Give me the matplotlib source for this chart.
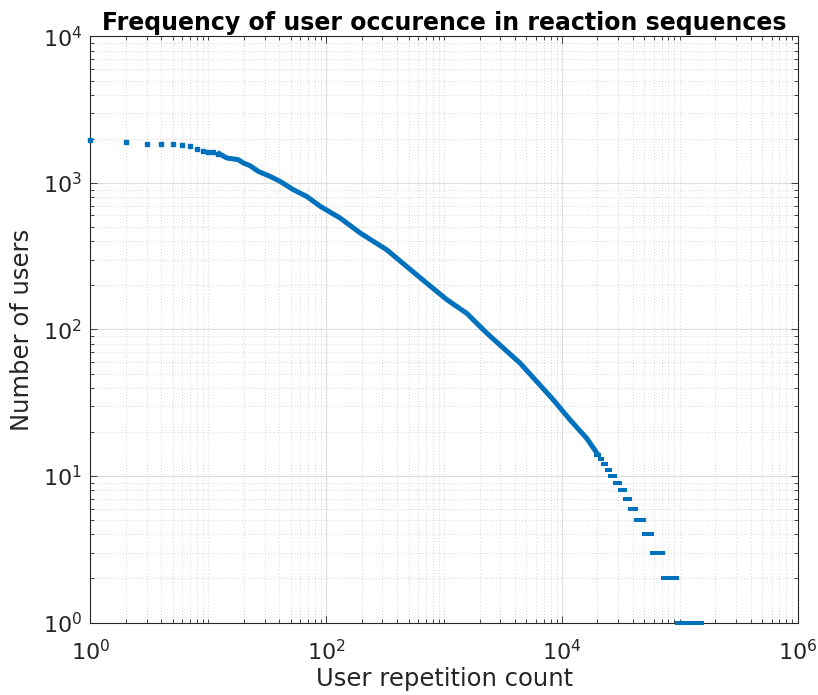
import numpy as np
import matplotlib.pyplot as plt
from matplotlib.ticker import FixedLocator, LogLocator, LogFormatterMathtext, NullFormatter

# Small repetition counts: separate markers
head_x = [1, 2, 3, 4, 5, 6, 7, 8, 9, 10, 11, 12]
head_y = [1954, 1893, 1855, 1850, 1835, 1818, 1798, 1715, 1654, 1636, 1619, 1585]

# Dense middle part of the curve
body_x = [12.4, 14.3, 17.9, 19.8, 22.6, 26.5, 33.4, 40.6, 52.6, 68.4, 88.5, 131,
          194, 326, 482, 713, 1053, 1556, 2300, 4415, 8450, 11700, 16200, 19600]
body_y = [1585, 1482, 1443, 1370, 1312, 1200, 1110, 1026, 900, 809, 695, 577,
          456, 350, 269, 207, 160, 129, 94.5, 58.9, 33.1, 24.2, 18.1, 14.5]

# Tail: flat runs at integer user counts
tail_y = [1, 2, 3, 4, 5, 6, 7, 8, 9, 10, 11, 12, 13, 14]
tail_lo = [94800, 71700, 58500, 49400, 42800, 38000, 34100, 30900, 28100, 25800,
           24000, 22200, 20900, 19600]
tail_hi = [153500, 95300, 72100, 58500, 49400, 42800, 37800, 34100, 30900, 28400,
           25400, 23800, 22000, 20600]

blue = "#0072BD"
dark = "#262626"

fig = plt.figure(figsize=(8.18, 6.95), dpi=100)
ax = fig.add_axes([0.1106, 0.1043, 0.8646, 0.8432])

ax.plot(head_x, head_y, "s", ms=3, color=blue, mec=blue, clip_on=False, zorder=3)
ax.plot(body_x, body_y, "-", lw=3.6, color=blue, solid_capstyle="projecting", zorder=3)
for y, lo, hi in zip(tail_y, tail_lo, tail_hi):
    ax.plot([lo, hi], [y, y], "-", lw=2.9, color=blue,
            solid_capstyle="projecting", clip_on=False, zorder=3)

ax.set_xscale("log")
ax.set_yscale("log")
ax.set_xlim(1, 1e6)
ax.set_ylim(1, 1e4)

ax.xaxis.set_major_locator(FixedLocator([1, 1e2, 1e4, 1e6]))
ax.xaxis.set_minor_locator(LogLocator(base=10, subs=np.arange(1, 10), numticks=20))
ax.yaxis.set_major_locator(FixedLocator([1, 1e1, 1e2, 1e3, 1e4]))
ax.yaxis.set_minor_locator(LogLocator(base=10, subs=np.arange(2, 10), numticks=20))
ax.xaxis.set_major_formatter(LogFormatterMathtext())
ax.yaxis.set_major_formatter(LogFormatterMathtext())
ax.xaxis.set_minor_formatter(NullFormatter())
ax.yaxis.set_minor_formatter(NullFormatter())

ax.grid(which="major", color="#dedede", lw=0.8)
ax.grid(which="minor", color="#c8c8c8", lw=0.6, ls=(0, (1, 2.5)))
ax.set_axisbelow(True)

ax.tick_params(which="both", direction="in", top=True, right=True,
               colors=dark, labelsize=16, width=0.6)
ax.tick_params(which="major", length=5)
ax.tick_params(which="minor", length=3)
ax.tick_params(axis="x", which="major", pad=12)
ax.tick_params(axis="y", which="major", pad=6)
for s in ax.spines.values():
    s.set_color(dark)
    s.set_linewidth(0.8)

ax.set_xlabel("User repetition count", fontsize=17.5, color=dark, labelpad=2)
ax.set_ylabel("Number of users", fontsize=17.5, color=dark, labelpad=6)
ax.set_title("Frequency of user occurence in reaction sequences",
             fontsize=17, fontweight="bold", color="black", pad=5)

fig.savefig("out.png", dpi=100)
